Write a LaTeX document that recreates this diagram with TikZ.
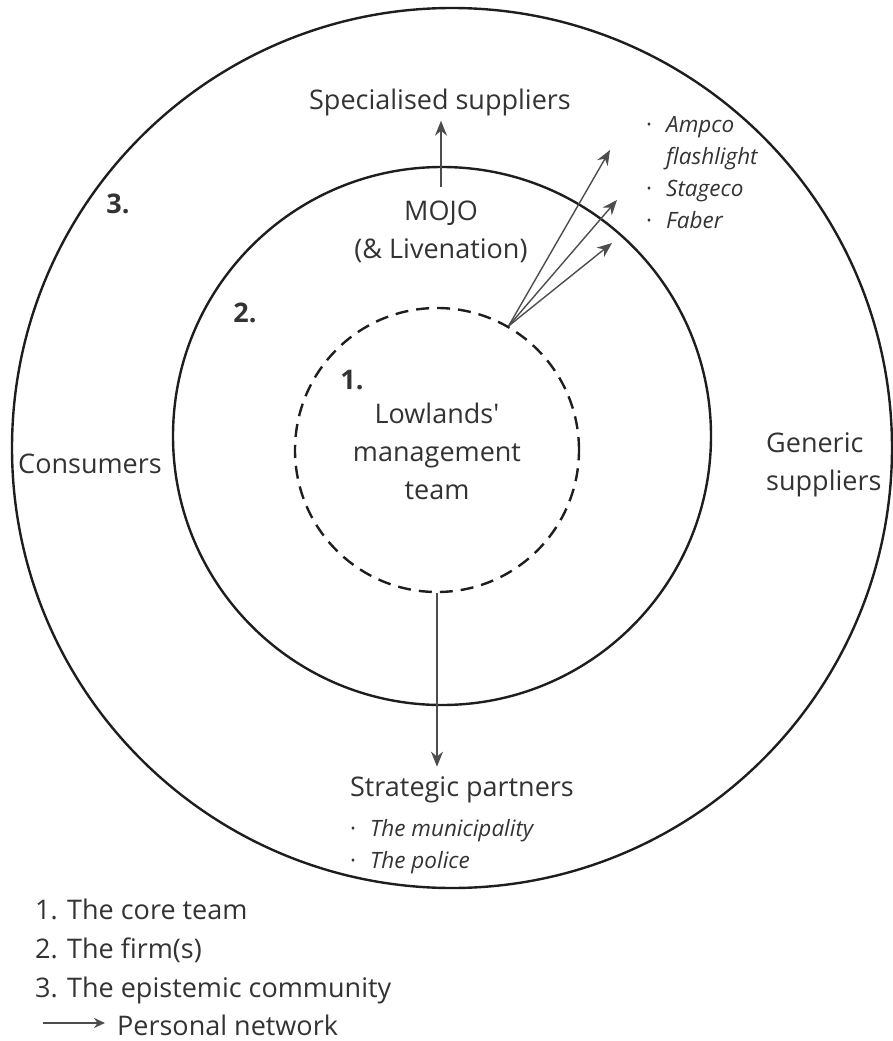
\documentclass[tikz,border=0pt]{standalone}
\usepackage{fontspec}
\setmainfont{Open Sans}
\usepackage{tikz}
\usetikzlibrary{arrows.meta}
\definecolor{ink}{HTML}{333333}
\definecolor{ringcol}{HTML}{1E1E1E}
\definecolor{arrcol}{HTML}{4D4D4D}
\newcommand{\bul}{\makebox[20pt][l]{\textperiodcentered}}
\newcommand{\nobul}{\makebox[20pt][l]{}}

\begin{document}
\begin{tikzpicture}[x=1pt, y=-1pt,
    ring/.style={
      draw=ringcol, line width=2.4pt, circle, inner sep=0pt
    },
    coreteam/.style={
      ring, dash pattern=on 13pt off 8pt
    },
    lbl/.style={
      text=ink, inner sep=0pt, font=\fontsize{27}{38}\selectfont
    },
    num/.style={
      lbl, font=\fontsize{27}{38}\selectfont\bfseries
    },
    items/.style={
      text=ink, inner sep=0pt, align=left,
      font=\fontsize{22.5}{32}\selectfont
    },
    arr/.style={-{Stealth[length=15pt, width=12pt]}, line width=1.4pt, arrcol},
  ]
    \useasboundingbox (0,0) rectangle (893,1041);
    \clip (0,0) rectangle (893,1041);

    \node[ring, minimum size=880pt] (community) at (452,448) {};
    \node[ring, minimum size=538pt] (firm) at (442,436) {};
    \node[coreteam, minimum size=284pt] (core) at (437,450) {};

    \node[num] (n3) at (118,204) {3.};
    \node[num] (n2) at (245,313) {2.};
    \node[num] (n1) at (352,380) {1.};

    \node[lbl, align=center] (lowlands) at (437,451) {Lowlands\textquotesingle\\management\\team};
    \node[lbl, align=center] (mojo) at (441,232) {MOJO\\(\& Livenation)};
    \node[lbl] (spec) at (440,102) {Specialised suppliers};
    \node[lbl] (consumers) at (90,464) {Consumers};
    \node[lbl, align=left, anchor=west] (generic) at (766,465) {Generic\\suppliers};
    \node[lbl] (partners) at (462,790) {Strategic partners};

    \node[items, anchor=west] (speclist) at (646,173) {%
      \bul\textit{Ampco}\\
      \nobul\textit{flashlight}\\
      \bul\textit{Stageco}\\
      \bul\textit{Faber}
    };
    \node[items, anchor=west] (partlist) at (350,847) {%
      \bul\textit{The municipality}\\
      \bul\textit{The police}
    };

    \node[lbl, align=left, anchor=west, font=\fontsize{27}{39}\selectfont] (legend) at (35,951) {%
      1. The core team\\
      2. The firm(s)\\
      3. The epistemic community
    };
    \node[lbl, anchor=west] (pn) at (117,1025) {Personal network};
    \coordinate (pnstart) at (43,1023);

    \coordinate (tipA) at (610,150);
    \coordinate (tipB) at (617,200);
    \coordinate (tipC) at (612,243);

    \draw[arr, shorten <=14pt, shorten >=5pt] (mojo.north) -- (mojo.north |- spec.south);
    \draw[arr, shorten >=10pt] (core.south) -- (core.south |- partners.north);
    \foreach \t in {tipA, tipB, tipC}
      \draw[arr] (core.60) -- (\t);
    \draw[arr, line width=1.8pt, -{Stealth[length=11pt, width=10pt]}, shorten >=12pt]
      (pnstart) -- (pn.west |- pnstart);
\end{tikzpicture}
\end{document}
